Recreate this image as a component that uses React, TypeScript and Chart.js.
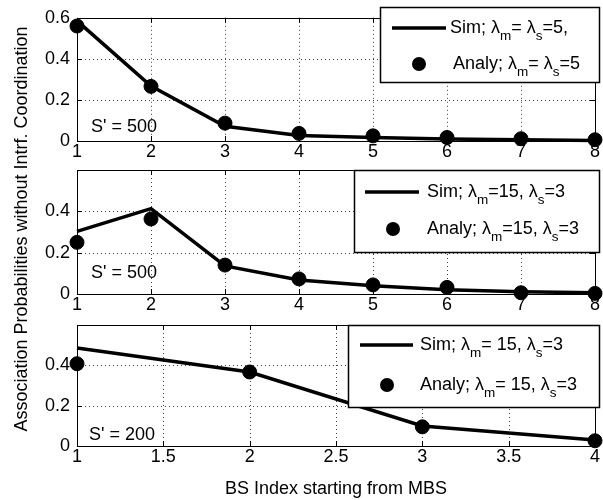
import React, { useEffect, useRef } from "react";
import { Chart, registerables } from "chart.js";
Chart.register(...registerables);

// ---------- data ----------
const xTop = [1, 2, 3, 4, 5, 6, 7, 8];
const simTop = [0.585, 0.268, 0.072, 0.027, 0.017, 0.01, 0.006, 0.003];
const anaTop = [0.56, 0.266, 0.087, 0.037, 0.025, 0.017, 0.011, 0.006];

const xMid = [1, 2, 3, 4, 5, 6, 7, 8];
const simMid = [0.303, 0.413, 0.136, 0.068, 0.04, 0.02, 0.011, 0.006];
const anaMid = [0.25, 0.363, 0.14, 0.073, 0.044, 0.032, 0.006, 0.003];

const xBot = [1, 2, 3, 4];
const simBot = [0.486, 0.367, 0.099, 0.03];
const anaBot = [0.408, 0.367, 0.095, 0.026];

const xTicksTop = [1, 2, 3, 4, 5, 6, 7, 8];
const xTicksBot = [1, 1.5, 2, 2.5, 3, 3.5, 4];
const yTicksTop = [0, 0.2, 0.4, 0.6];
const yTicksLow = [0, 0.2, 0.4];

const simLabels = ["Sim; λ_m= λ_s=5,", "Sim; λ_m=15, λ_s=3", "Sim; λ_m= 15, λ_s=3"];
const anaLabels = ["Analy; λ_m= λ_s=5", "Analy; λ_m=15, λ_s=3", "Analy; λ_m= 15, λ_s=3"];
const sLabels = ["S' = 500", "S' = 500", "S' = 200"];
const xTitle = "BS Index starting from MBS";
const yTitle = "Association Probabilities without Intrf. Coordination";

// ---------- styling / layout ----------
const FONT = "'Liberation Sans', Arial, Helvetica, sans-serif";
const TICK_SIZE = 18;
const TEXT_SIZE = 18;
const MARK_R = 7;

type Panel = {
  xs: number[]; sim: number[]; ana: number[];
  xTicks: number[]; yTicks: number[]; xMin: number; xMax: number;
  top: number; padBottom: number; xh: number; title: boolean;
  box: [number, number, number, number];
  row1: number; row2: number; lineX: [number, number]; text1X: number; markX: number; text2X: number;
  sOff: [number, number]; idx: number; ylabel: boolean;
};

const panels: Panel[] = [
  {
    xs: xTop, sim: simTop, ana: anaTop, xTicks: xTicksTop, yTicks: yTicksTop, xMin: 1, xMax: 8,
    top: 10, padBottom: 337, xh: 22, title: false,
    box: [380, 7, 599, 82], row1: 28, row2: 64, lineX: [392, 446], text1X: 450, markX: 419, text2X: 453,
    sOff: [14, -14], idx: 0, ylabel: false,
  },
  {
    xs: xMid, sim: simMid, ana: anaMid, xTicks: xTicksTop, yTicks: yTicksLow, xMin: 1, xMax: 8,
    top: 170, padBottom: 184, xh: 22, title: false,
    box: [354, 170, 599, 252], row1: 192, row2: 229, lineX: [365, 419], text1X: 427, markX: 393, text2X: 427,
    sOff: [14, -21], idx: 1, ylabel: true,
  },
  {
    xs: xBot, sim: simBot, ana: anaBot, xTicks: xTicksBot, yTicks: yTicksLow, xMin: 1, xMax: 4,
    top: 325, padBottom: 0, xh: 54, title: true,
    box: [348, 325, 599, 407], row1: 345, row2: 385, lineX: [360, 413], text1X: 420, markX: 387, text2X: 420,
    sOff: [12, -11], idx: 2, ylabel: false,
  },
];

type Seg = { t: string; sub?: boolean };
function parseLabel(s: string): Seg[] {
  const out: Seg[] = [];
  const re = /_(.)/g;
  let last = 0;
  let m: RegExpExecArray | null;
  while ((m = re.exec(s))) {
    if (m.index > last) out.push({ t: s.slice(last, m.index) });
    out.push({ t: m[1], sub: true });
    last = m.index + 2;
  }
  if (last < s.length) out.push({ t: s.slice(last) });
  return out;
}

function drawRich(ctx: CanvasRenderingContext2D, s: string, x: number, y: number, size: number) {
  let cx = x;
  ctx.textAlign = "left";
  ctx.textBaseline = "middle";
  for (const seg of parseLabel(s)) {
    const fs = seg.sub ? size * 0.75 : size;
    ctx.font = `${fs}px ${FONT}`;
    ctx.fillText(seg.t, cx, seg.sub ? y + size * 0.45 : y);
    cx += ctx.measureText(seg.t).width;
  }
}

function makePlugin(p: Panel) {
  return {
    id: "decor" + p.idx,
    beforeDatasetsDraw(chart: any) {
      const ctx = chart.ctx as CanvasRenderingContext2D;
      const { left, right, top, bottom } = chart.chartArea;
      const xs = chart.scales.x, ys = chart.scales.y;
      ctx.save();
      ctx.strokeStyle = "rgba(0,0,0,0.75)";
      ctx.lineWidth = 1;
      ctx.setLineDash([1, 3]);
      for (const v of p.xTicks) {
        if (v === p.xMin || v === p.xMax) continue;
        const px = Math.round(xs.getPixelForValue(v)) + 0.5;
        ctx.beginPath(); ctx.moveTo(px, top); ctx.lineTo(px, bottom); ctx.stroke();
      }
      for (const v of p.yTicks) {
        if (v === 0 || v === 0.6) continue;
        const py = Math.round(ys.getPixelForValue(v)) + 0.5;
        ctx.beginPath(); ctx.moveTo(left, py); ctx.lineTo(right, py); ctx.stroke();
      }
      ctx.restore();
    },
    afterDatasetsDraw(chart: any) {
      const ctx = chart.ctx as CanvasRenderingContext2D;
      const { left, right, top, bottom } = chart.chartArea;
      const xs = chart.scales.x, ys = chart.scales.y;
      ctx.save();
      ctx.setLineDash([]);
      ctx.strokeStyle = "#000";
      ctx.lineWidth = 1;
      // frame
      ctx.strokeRect(Math.round(left) + 0.5, Math.round(top) + 0.5, Math.round(right - left), Math.round(bottom - top));
      // inward ticks
      const tl = 5;
      ctx.beginPath();
      for (const v of p.xTicks) {
        const px = Math.round(xs.getPixelForValue(v)) + 0.5;
        ctx.moveTo(px, bottom); ctx.lineTo(px, bottom - tl);
        ctx.moveTo(px, top); ctx.lineTo(px, top + tl);
      }
      for (const v of p.yTicks) {
        const py = Math.round(ys.getPixelForValue(v)) + 0.5;
        ctx.moveTo(left, py); ctx.lineTo(left + tl, py);
        ctx.moveTo(right, py); ctx.lineTo(right - tl, py);
      }
      ctx.stroke();
      // S' label
      ctx.fillStyle = "#000";
      ctx.font = `${TEXT_SIZE}px ${FONT}`;
      ctx.textAlign = "left";
      ctx.textBaseline = "middle";
      ctx.fillText(sLabels[p.idx], left + p.sOff[0], bottom + p.sOff[1]);
      // legend
      const [bx0, by0, bx1, by1] = p.box;
      ctx.fillStyle = "#fff";
      ctx.fillRect(bx0, by0, bx1 - bx0, by1 - by0);
      ctx.strokeStyle = "#000";
      ctx.lineWidth = 1.5;
      ctx.strokeRect(bx0 + 0.5, by0 + 0.5, bx1 - bx0, by1 - by0);
      ctx.lineWidth = 3.5;
      ctx.beginPath(); ctx.moveTo(p.lineX[0], p.row1); ctx.lineTo(p.lineX[1], p.row1); ctx.stroke();
      ctx.fillStyle = "#000";
      ctx.beginPath(); ctx.arc(p.markX, p.row2, MARK_R, 0, Math.PI * 2); ctx.fill();
      drawRich(ctx, simLabels[p.idx], p.text1X, p.row1, TEXT_SIZE);
      drawRich(ctx, anaLabels[p.idx], p.text2X, p.row2, TEXT_SIZE);
      ctx.restore();
    },
    afterDraw(chart: any) {
      if (!p.ylabel) return;
      const ctx = chart.ctx as CanvasRenderingContext2D;
      ctx.save();
      ctx.translate(22, 229);
      ctx.rotate(-Math.PI / 2);
      ctx.fillStyle = "#000";
      ctx.font = `${TEXT_SIZE}px ${FONT}`;
      ctx.textAlign = "center";
      ctx.textBaseline = "middle";
      ctx.fillText(yTitle, 0, 0);
      ctx.restore();
    },
  };
}

function makeConfig(p: Panel): any {
  return {
    type: "scatter",
    data: {
      datasets: [
        {
          label: simLabels[p.idx].replace(/_/g, ""),
          data: p.xs.map((x, i) => ({ x, y: p.sim[i] })),
          showLine: true, borderColor: "#000", borderWidth: 3.5, pointRadius: 0,
          backgroundColor: "#000", clip: false, order: 2, tension: 0,
        },
        {
          label: anaLabels[p.idx].replace(/_/g, ""),
          data: p.xs.map((x, i) => ({ x, y: p.ana[i] })),
          showLine: false, pointRadius: MARK_R, pointBackgroundColor: "#000", pointBorderColor: "#000",
          backgroundColor: "#000", borderColor: "#000", clip: false, order: 1,
        },
      ],
    },
    options: {
      responsive: false, animation: false, devicePixelRatio: 1,
      events: [],
      layout: { padding: { left: 0, right: 5, top: p.top, bottom: p.padBottom } },
      plugins: { legend: { display: false }, tooltip: { enabled: false } },
      scales: {
        x: {
          type: "linear", min: p.xMin, max: p.xMax,
          afterBuildTicks: (s: any) => { s.ticks = p.xTicks.map((v) => ({ value: v })); },
          afterFit: (s: any) => { s.height = p.xh; },
          grid: { display: false, drawTicks: false },
          border: { display: false },
          ticks: {
            color: "#000", font: { size: TICK_SIZE, family: FONT }, padding: 0,
            maxRotation: 0, autoSkip: false, callback: (v: number) => String(v),
          },
          title: p.title
            ? { display: true, text: xTitle, color: "#000", font: { size: TEXT_SIZE, family: FONT }, padding: { top: 0, bottom: 0 } }
            : { display: false },
        },
        y: {
          type: "linear", min: 0, max: 0.6,
          afterBuildTicks: (s: any) => { s.ticks = p.yTicks.map((v) => ({ value: v })); },
          afterFit: (s: any) => { s.width = 77; },
          grid: { display: false, drawTicks: false },
          border: { display: false },
          ticks: {
            color: "#000", font: { size: TICK_SIZE, family: FONT }, padding: 7,
            callback: (v: number) => String(v),
          },
        },
      },
    },
    plugins: [makePlugin(p)],
  };
}

function PanelCanvas({ p }: { p: Panel }) {
  const ref = useRef<HTMLCanvasElement | null>(null);
  useEffect(() => {
    if (!ref.current) return;
    const chart = new Chart(ref.current, makeConfig(p));
    return () => chart.destroy();
  }, [p]);
  return (
    <canvas
      ref={ref}
      width={603}
      height={500}
      style={{ position: "absolute", left: 0, top: 0, width: 603, height: 500 }}
    />
  );
}

export default function App() {
  return (
    <div style={{ position: "fixed", left: 0, top: 0, width: 603, height: 500, background: "#fff", overflow: "hidden" }}>
      {panels.map((p) => (
        <PanelCanvas key={p.idx} p={p} />
      ))}
    </div>
  );
}
